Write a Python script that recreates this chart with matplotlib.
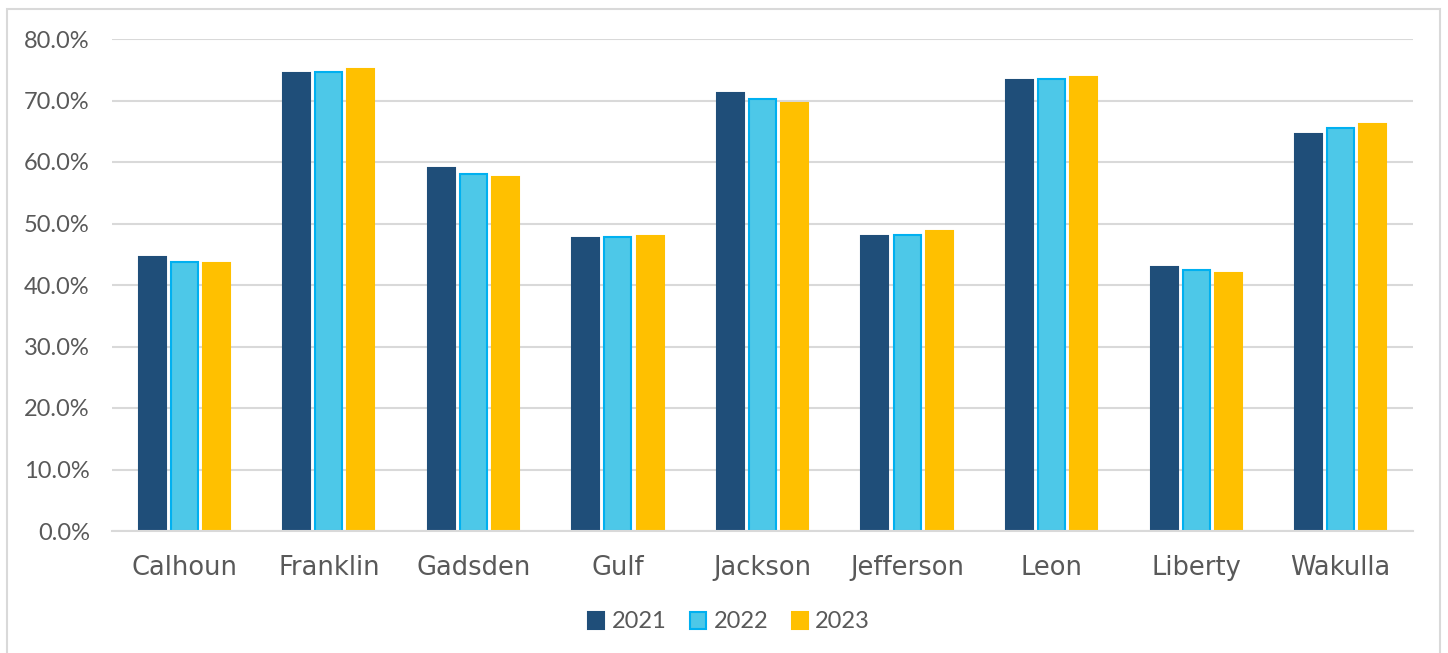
import matplotlib
matplotlib.use("Agg")
import matplotlib.pyplot as plt
import numpy as np
from matplotlib.patches import Rectangle
from matplotlib.ticker import FuncFormatter

counties = ["Calhoun", "Franklin", "Gadsden", "Gulf", "Jackson", "Jefferson", "Leon", "Liberty", "Wakulla"]
years = ["2021", "2022", "2023"]
v2021 = [44.6, 74.4, 59.1, 47.7, 71.3, 47.9, 73.4, 43.0, 64.6]
v2022 = [43.8, 74.6, 58.1, 47.8, 70.2, 48.2, 73.5, 42.4, 65.5]
v2023 = [43.5, 75.2, 57.6, 48.0, 69.6, 48.7, 73.8, 41.9, 66.2]
yticks = [0, 10, 20, 30, 40, 50, 60, 70, 80]

fills = ["#1F4E79", "#4DC8E8", "#FFC000"]
edges = ["#1F4E79", "#00B0F0", "#FFC000"]
text_color = "#595959"

plt.rcParams['font.family'] = ['Lato', 'DejaVu Sans']

fig = plt.figure(figsize=(14.48, 6.53), dpi=100)
ax = fig.add_axes([112/1448, 1-531/653, (1413-112)/1448, (531-39)/653])

x = np.arange(len(counties))
slot = 0.222
width = 0.187
series = [v2021, v2022, v2023]
for i, (vals, yr) in enumerate(zip(series, years)):
    ax.bar(x + (i-1)*slot, [v/100 for v in vals], width=width, color=fills[i],
           edgecolor=edges[i], linewidth=1.5, label=yr, zorder=3)

ax.set_xlim(-0.5, len(counties)-0.5)
ax.set_ylim(0, 0.8)
ax.set_yticks([t/100 for t in yticks])
ax.yaxis.set_major_formatter(FuncFormatter(lambda v, p: f"{v*100:.1f}%"))
ax.set_xticks(x)
ax.set_xticklabels(counties, fontfamily=['DejaVu Sans'], fontsize=18.5)
ax.tick_params(axis='both', length=0, colors=text_color)
ax.tick_params(axis='y', labelsize=17, pad=16)
ax.tick_params(axis='x', pad=17)
ax.grid(axis='y', color="#D9D9D9", linewidth=1.5, zorder=0)
for s in ['top', 'right', 'left']:
    ax.spines[s].set_visible(False)
ax.spines['bottom'].set_color("#D9D9D9")
ax.spines['bottom'].set_linewidth(1.5)
ax.spines['bottom'].set_zorder(4)

leg = fig.legend(loc='center', bbox_to_anchor=(729/1448, 1-622/653), ncol=3,
                 frameon=False, fontsize=17, handlelength=0.7, handleheight=0.7,
                 handletextpad=0.3, columnspacing=1.0)
for t in leg.get_texts():
    t.set_color(text_color)

fig.patches.append(Rectangle((7/1448, -0.05), (1440-7)/1448, 1.05 - 9/653,
                             transform=fig.transFigure, fill=False,
                             edgecolor="#D9D9D9", linewidth=1.5))

fig.savefig("out.png", dpi=100)
